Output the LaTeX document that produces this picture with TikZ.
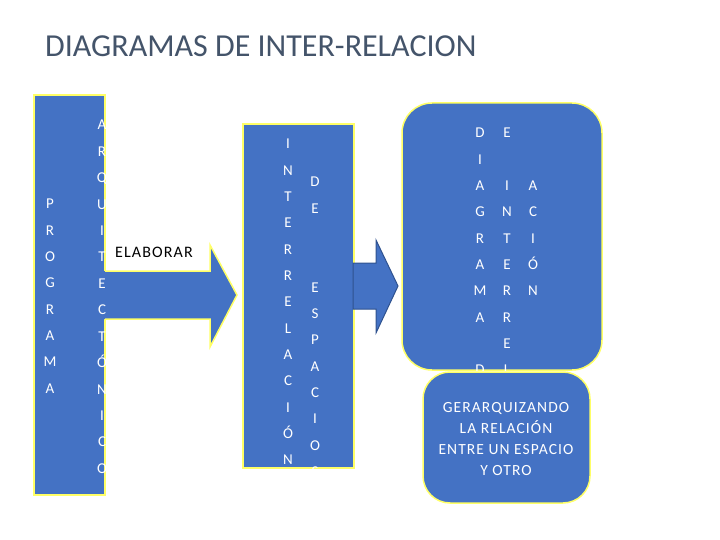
\documentclass[tikz,border=0pt]{standalone}
\usepackage{fontspec}
\setmainfont{Carlito}
\newfontfamily\spacedfont{Carlito}[LetterSpace=7]
\definecolor{boxblue}{HTML}{4472C4}
\definecolor{edgeyellow}{HTML}{FFFF66}
\definecolor{darkedge}{HTML}{2F528F}
\definecolor{titlecol}{HTML}{44546A}
\begin{document}
\begin{tikzpicture}[x=1pt,y=-1pt,
  bluebox/.style={fill=boxblue,draw=edgeyellow,line width=1.5pt},
  letter/.style={text=white,font=\fontsize{15}{18}\selectfont,inner sep=0pt,anchor=base},
  plain/.style={font=\spacedfont\fontsize{16}{19}\selectfont,inner sep=0pt}]
\useasboundingbox (0,0) rectangle (720,540);

% title
\node[anchor=base west,inner sep=0pt,text=titlecol,font=\fontsize{32}{37}\selectfont] (title) at (45,57) {DIAGRAMAS DE INTER-RELACION};

% left box and arrow
\draw[bluebox] (34,95) rectangle (105,495);
\coordinate (lrect) at (105,295);
\fill[boxblue] (103,271) -- (210,271) -- (210,245) -- (237,295) -- (210,347) -- (210,319) -- (103,319) -- cycle;
\draw[edgeyellow,line width=1.5pt,line join=miter] (105,271) -- (210,271) -- (210,245) -- (237,295) -- (210,347) -- (210,319) -- (105,319);
\node[plain,anchor=base] (elab) at (154,258) {ELABORAR};

\foreach \l [count=\i] in {P,R,O,G,R,A,M,A}
  \node[letter] (pa\i) at (50,{209+(\i-1)*26.3}) {\l};
\foreach \l [count=\i] in {A,R,Q,U,I,T,E,C,T,Ó,N,I,C,O}
  \node[letter] (ar\i) at (102,{130+(\i-1)*26.4}) {\l};

% middle box and arrow
\draw[bluebox] (243,124) rectangle (354,468);
\draw[fill=boxblue,draw=darkedge,line width=1pt] (353,263) -- (376,263) -- (376,240) -- (398,286) -- (376,333) -- (376,309) -- (353,309) -- cycle;

\foreach \l [count=\i] in {I,N,T,E,R,R,E,L,A,C,I,Ó,N}
  \node[letter] (in\i) at (288,{149+(\i-1)*26.3}) {\l};
\foreach \l/\k in {D/0,E/1,E/4,S/5,P/6,A/7,C/8,I/9,O/10,S/11}
  \node[letter] (de\k) at (315,{187+\k*26.3}) {\l};

% right upper box
\draw[bluebox,rounded corners=30pt] (402,103) rectangle (602,370);
\foreach \l/\k in {D/0,I/1,A/2,G/3,R/4,A/5,M/6,A/7,D/9}
  \node[letter] (da\k) at (480,{138+\k*26.3}) {\l};
\foreach \l/\k in {E/0,I/2,N/3,T/4,E/5,R/6,R/7,E/8,L/9}
  \node[letter] (eb\k) at (507,{138+\k*26.3}) {\l};
\foreach \l/\k in {A/2,C/3,I/4,Ó/5,N/6}
  \node[letter] (ac\k) at (533,{138+\k*26.3}) {\l};

% right lower box
\draw[bluebox,rounded corners=27pt] (423,372) rectangle (590,503);
\node[text=white,align=center,inner sep=0pt,font=\spacedfont\fontsize{15.5}{21}\selectfont] (ger) at (506,439) {GERARQUIZANDO\\LA RELACIÓN\\ENTRE UN ESPACIO\\Y OTRO};
\end{tikzpicture}
\end{document}
